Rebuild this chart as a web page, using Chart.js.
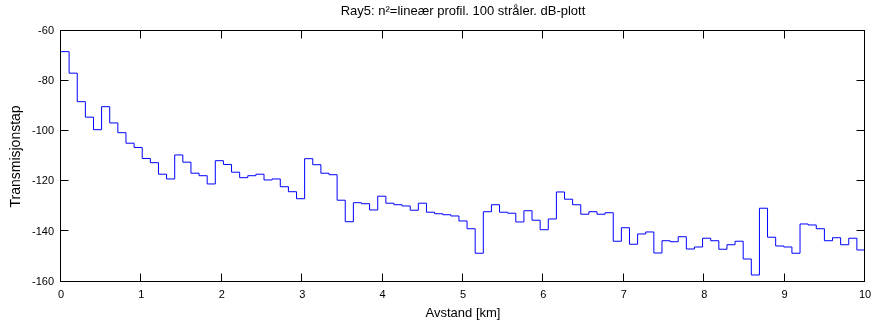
<!DOCTYPE html>
<html>
<head>
<meta charset="utf-8">
<title>Ray5 transmisjonstap</title>
<script src="https://cdn.jsdelivr.net/npm/chart.js@4"></script>
<style>
  html, body { margin: 0; padding: 0; background: #fff; }
  #wrap { width: 873px; height: 323px; }
</style>
</head>
<body>
<div id="wrap"><canvas id="chart" width="873" height="323"></canvas></div>
<script>
// transmission loss in dB, one value per ray bin (100 values, stairs style)
const tap = [
  -68.1, -76.7, -88.1, -94.3, -99.3, -90.1, -96.6, -100.5, -104.7, -106.4,
  -110.8, -112.5, -117.1, -119.0, -109.4, -112.3, -116.7, -117.7, -121.0, -111.7,
  -113.2, -116.3, -118.5, -117.7, -117.1, -119.4, -119.0, -122.1, -124.1, -126.9,
  -110.9, -113.3, -116.7, -117.3, -127.5, -136.1, -128.5, -128.9, -131.4, -125.9,
  -128.7, -129.3, -129.8, -131.5, -128.7, -132.3, -132.9, -133.3, -133.8, -135.8,
  -138.9, -148.7, -132.1, -129.3, -132.3, -132.7, -136.2, -131.7, -135.5, -139.3,
  -135.0, -124.2, -127.1, -129.3, -133.1, -132.1, -133.1, -132.5, -143.9, -138.5,
  -145.1, -141.0, -140.2, -148.6, -143.7, -144.1, -142.1, -147.0, -146.2, -142.7,
  -143.7, -147.1, -145.3, -143.9, -151.0, -157.4, -130.7, -142.3, -145.8, -146.2,
  -148.7, -137.0, -137.4, -138.9, -143.7, -142.5, -145.3, -142.7, -147.4, -147.4
];
// distance grid in km (0 to 10, evenly spaced like linspace)
const avstand = tap.map((_, i) => i * 10 / (tap.length - 1));

const xTicks = [0, 1, 2, 3, 4, 5, 6, 7, 8, 9, 10];
const yTicks = [-160, -140, -120, -100, -80, -60];

const FONT = 'Liberation Sans, Arial, Helvetica, sans-serif';

// matlab style box with inward ticks
const boxPlugin = {
  id: 'box',
  afterDraw(chart) {
    const { ctx, chartArea: a, scales: { x, y } } = chart;
    const L = Math.round(a.left) - 0.5, R = Math.round(a.right) - 0.5;
    const T = Math.round(a.top) - 0.5, B = Math.round(a.bottom) - 0.5;
    const len = 8;
    ctx.save();
    ctx.strokeStyle = '#000';
    ctx.lineWidth = 1;
    ctx.strokeRect(L, T, R - L, B - T);
    ctx.beginPath();
    xTicks.forEach(v => {
      const px = Math.round(x.getPixelForValue(v)) - 0.5;
      ctx.moveTo(px, B); ctx.lineTo(px, B - len);
      ctx.moveTo(px, T); ctx.lineTo(px, T + len);
    });
    yTicks.forEach(v => {
      const py = Math.round(y.getPixelForValue(v)) - 0.5;
      ctx.moveTo(L, py); ctx.lineTo(L + len, py);
      ctx.moveTo(R, py); ctx.lineTo(R - len, py);
    });
    ctx.stroke();
    ctx.restore();
  }
};

new Chart(document.getElementById('chart'), {
  type: 'line',
  data: {
    datasets: [{
      data: avstand.map((d, i) => ({ x: d, y: tap[i] })),
      borderColor: '#0000ff',
      borderWidth: 1,
      pointRadius: 0,
      fill: false,
      stepped: 'before',
      tension: 0
    }]
  },
  options: {
    responsive: false,
    animation: false,
    layout: { padding: { left: 0, right: 8, top: 0, bottom: 0 } },
    plugins: {
      legend: { display: false },
      tooltip: { enabled: false },
      title: {
        display: true,
        fullSize: false,
        text: 'Ray5: n\u00b2=lineær profil. 100 stråler. dB-plott',
        color: '#000',
        font: { family: FONT, size: 13, weight: 'normal' },
        padding: { top: 4, bottom: 11.8 }
      }
    },
    scales: {
      x: {
        type: 'linear',
        min: 0,
        max: 10,
        grid: { display: false, drawTicks: false },
        border: { display: false },
        afterBuildTicks: s => { s.ticks = xTicks.map(v => ({ value: v })); },
        afterFit: s => { s.height = 41.5; s.paddingLeft = 0; s.paddingRight = 0; },
        ticks: {
          color: '#000',
          font: { family: FONT, size: 11 },
          padding: 7,
          maxRotation: 0,
          autoSkip: false
        },
        title: {
          display: true,
          text: 'Avstand [km]',
          color: '#000',
          font: { family: FONT, size: 13 },
          padding: { top: 0, bottom: 2 }
        }
      },
      y: {
        min: -160,
        max: -60,
        grid: { display: false, drawTicks: false },
        border: { display: false },
        afterBuildTicks: s => { s.ticks = yTicks.map(v => ({ value: v })); },
        afterFit: s => { s.width = 61; s.paddingTop = 0; s.paddingBottom = 0; },
        ticks: {
          color: '#000',
          font: { family: FONT, size: 11 },
          padding: 7
        },
        title: {
          display: true,
          text: 'Transmisjonstap',
          color: '#000',
          font: { family: FONT, size: 14 },
          padding: { top: 8, bottom: 0 }
        }
      }
    }
  },
  plugins: [boxPlugin]
});
</script>
</body>
</html>
